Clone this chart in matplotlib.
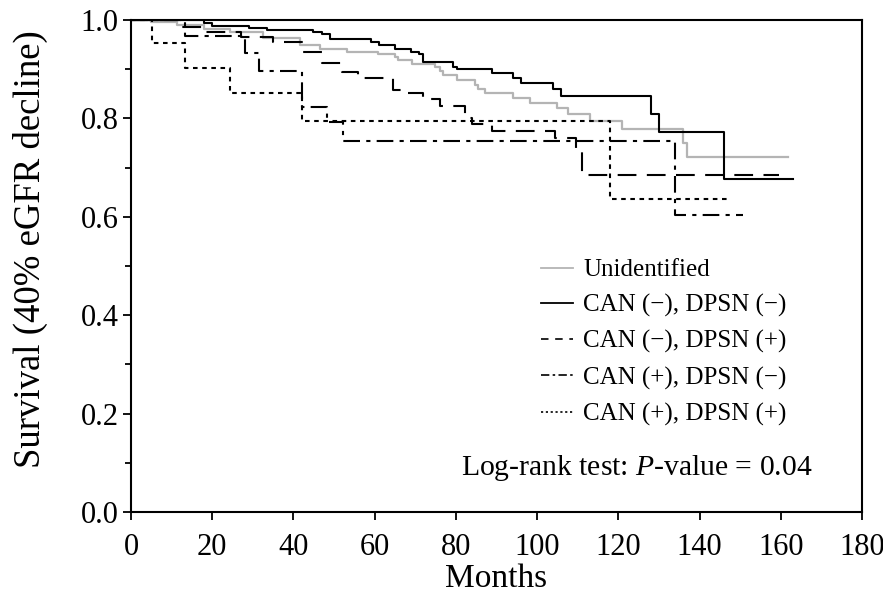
import matplotlib
matplotlib.use("Agg")
import matplotlib.pyplot as plt
from matplotlib.lines import Line2D
from matplotlib.ticker import MultipleLocator, FormatStrFormatter

plt.rcParams['font.family'] = ['Liberation Serif', 'DejaVu Serif']
plt.rcParams['mathtext.fontset'] = 'custom'
plt.rcParams['mathtext.it'] = 'Liberation Serif:italic'
plt.rcParams['mathtext.rm'] = 'Liberation Serif'

# Kaplan-Meier curves (months, survival)
t_unid = [0, 5, 11.3, 18, 24.4, 32.5, 41.6, 46.5, 53.2, 60.8, 65, 65.7, 69.2, 74.9,
          76.1, 76.8, 80.3, 84.7, 85.4, 87.2, 94.1, 98.3, 104.9, 107.6, 113, 120.9,
          135.9, 136.9, 161.8]
s_unid = [1.0, 0.996, 0.99, 0.982, 0.976, 0.963, 0.949, 0.941, 0.935, 0.931, 0.925,
          0.919, 0.911, 0.904, 0.896, 0.888, 0.878, 0.868, 0.86, 0.852, 0.841, 0.831,
          0.821, 0.809, 0.795, 0.778, 0.75, 0.722, 0.722]

t_nn = [0, 18, 20, 29, 33.5, 44.8, 47, 49, 59, 61, 65, 69, 71, 72, 79.3, 80.3, 89,
        94, 96, 104, 106, 128, 130, 146, 163]
s_nn = [1.0, 0.994, 0.988, 0.984, 0.98, 0.976, 0.972, 0.961, 0.955, 0.949, 0.941,
        0.935, 0.931, 0.915, 0.904, 0.9, 0.892, 0.882, 0.872, 0.86, 0.846, 0.809,
        0.772, 0.677, 0.677]

t_np = [0, 12, 18, 27, 35, 42.4, 47, 52, 56, 64.5, 67.5, 72, 76, 82.2, 84, 89, 104.5,
        109.5, 111, 159.5]
s_np = [1.0, 0.985, 0.975, 0.965, 0.955, 0.935, 0.913, 0.894, 0.882, 0.858, 0.852,
        0.84, 0.826, 0.80, 0.789, 0.775, 0.76, 0.74, 0.685, 0.685]

t_pn = [0, 13.3, 28.0, 31.5, 42.1, 48.3, 52.2, 134, 150.7]
s_pn = [1.0, 0.967, 0.933, 0.896, 0.823, 0.793, 0.754, 0.604, 0.604]

t_pp = [0, 5.2, 13.3, 24.4, 42.1, 118, 146.7]
s_pp = [1.0, 0.953, 0.902, 0.851, 0.795, 0.636, 0.636]

labels = ['Unidentified', 'CAN (\u2212), DPSN (\u2212)', 'CAN (\u2212), DPSN (+)',
          'CAN (+), DPSN (\u2212)', 'CAN (+), DPSN (+)']

fig = plt.figure(figsize=(8.83, 5.94), dpi=100)
ax = fig.add_axes([0.1484, 0.138, 0.8278, 0.8283])

ax.step(t_unid, s_unid, where='post', color='#b4b4b4', lw=1.6)
ax.step(t_nn, s_nn, where='post', color='black', lw=1.5)
ax.step(t_np, s_np, where='post', color='black', lw=1.5, dashes=(9, 5))
ax.step(t_pn, s_pn, where='post', color='black', lw=1.5, dashes=(8, 3, 2, 3))
ax.step(t_pp, s_pp, where='post', color='black', lw=1.5, dashes=(2.2, 2.2))

ax.set_xlim(0, 180)
ax.set_ylim(0, 1.0)
ax.xaxis.set_major_locator(MultipleLocator(20))
ax.yaxis.set_major_locator(MultipleLocator(0.2))
ax.yaxis.set_minor_locator(MultipleLocator(0.1))
ax.yaxis.set_major_formatter(FormatStrFormatter('%.1f'))
ax.tick_params(axis='both', which='major', direction='out', length=6, width=1.3,
               labelsize=22, top=False, right=False)
ax.tick_params(axis='x', which='major', pad=9)
ax.tick_params(axis='y', which='major', pad=3)
ax.tick_params(axis='y', which='minor', direction='out', length=4, width=1.3)
for sp in ax.spines.values():
    sp.set_linewidth(1.5)

ax.set_xlabel('Months', fontsize=24, labelpad=1)
ax.set_ylabel('Survival (40% eGFR decline)', fontsize=26.5)
ax.yaxis.set_label_coords(-0.113, 0.535)

# legend handles with shorter patterns, as in the original key
handles = [
    Line2D([], [], color='#b4b4b4', lw=1.3),
    Line2D([], [], color='black', lw=1.3),
    Line2D([], [], color='black', lw=1.2, dashes=(4.5, 4)),
    Line2D([], [], color='black', lw=1.2, dashes=(5, 2, 1.5, 2)),
    Line2D([], [], color='black', lw=1.2, dashes=(1.3, 1.6)),
]
ax.legend(handles, labels, loc='upper left', bbox_to_anchor=(0.547, 0.535),
          frameon=False, fontsize=18, handlelength=1.3, handletextpad=0.4,
          labelspacing=0.52, borderaxespad=0)

ax.text(124.6, 0.089, 'Log-rank test: $\\it{P}$-value = 0.04', fontsize=21.3,
        ha='center', va='center')

fig.savefig('out.png', dpi=100)
